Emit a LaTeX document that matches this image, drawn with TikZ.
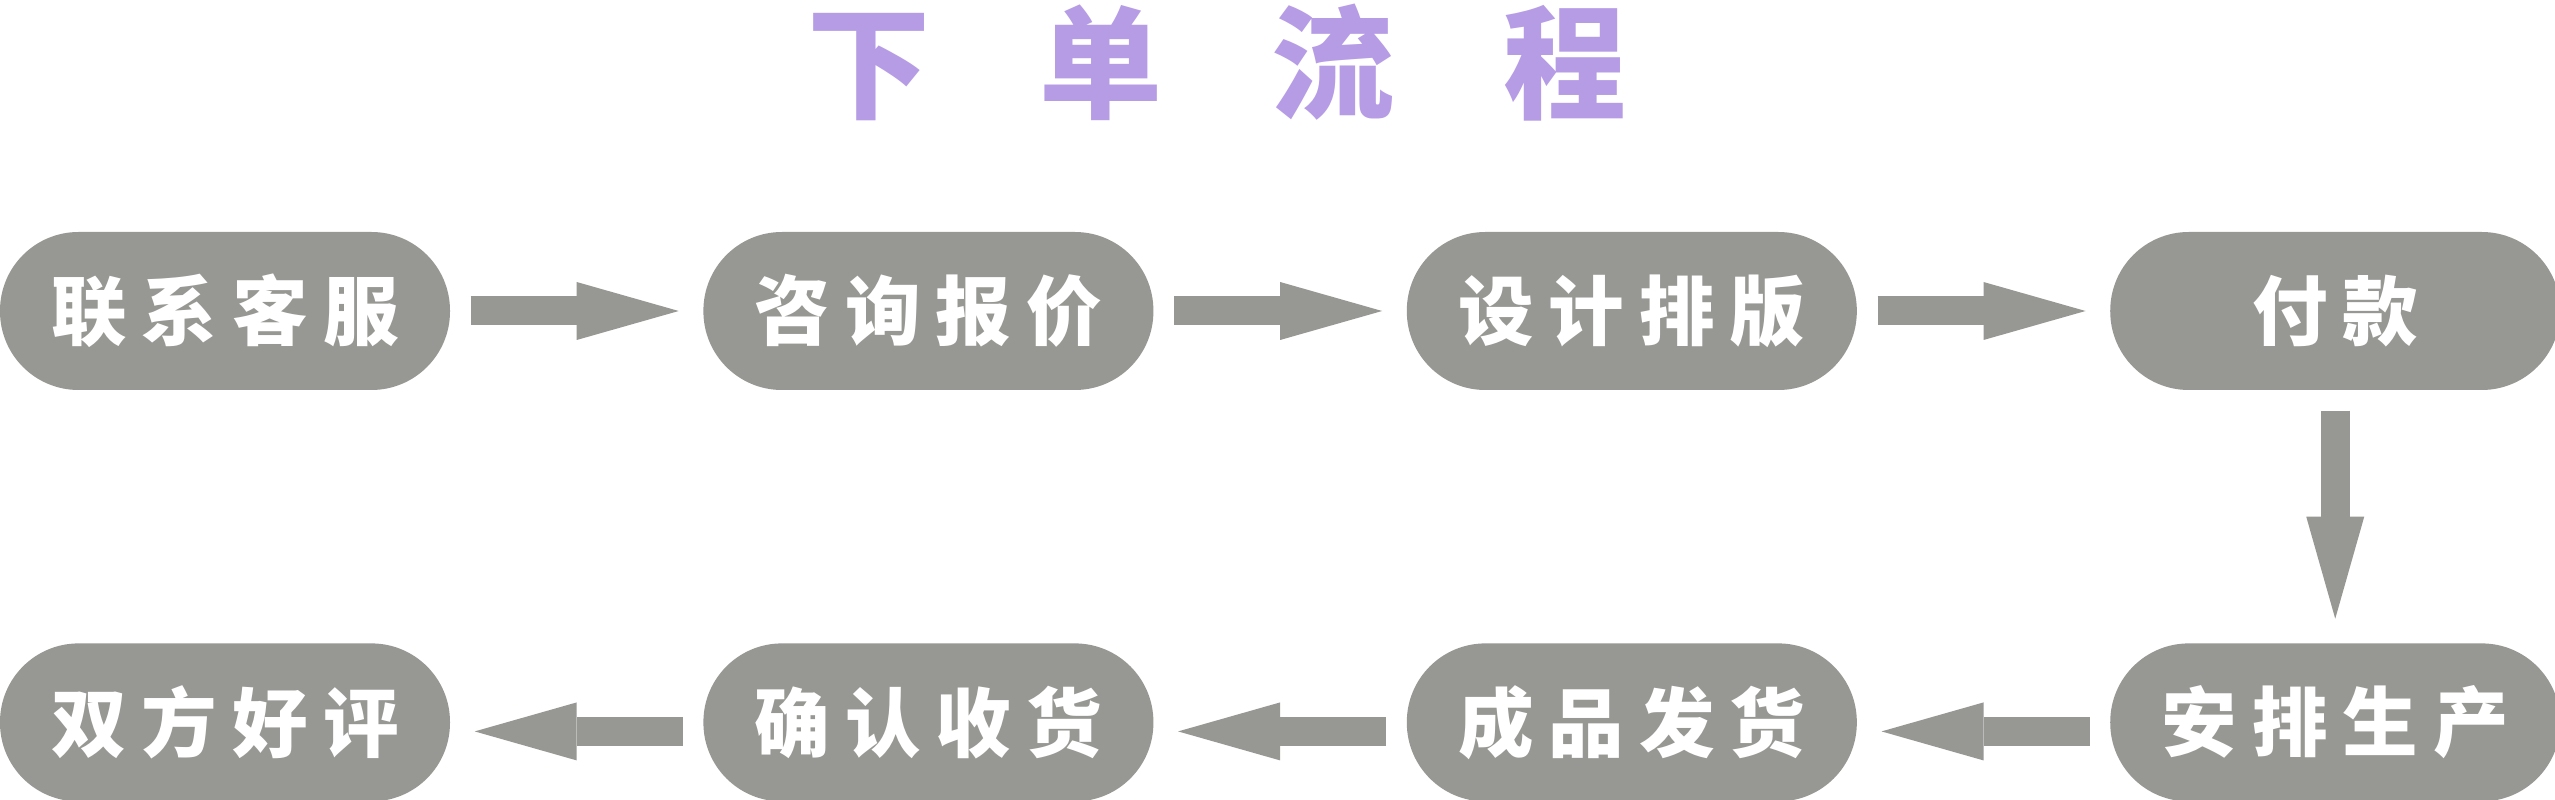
\documentclass[tikz,border=0pt]{standalone}
\usepackage{fontspec}
\usepackage{tikz}
\usetikzlibrary{positioning, arrows.meta, fadings}
\newfontfamily\cjkfont{Noto Sans CJK SC}
\definecolor{boxgray}{RGB}{151,151,147}
\definecolor{titlepurple}{RGB}{182,156,229}
\definecolor{titletop}{RGB}{160,157,236}
\definecolor{titlebottom}{RGB}{218,155,220}
% spread the characters of a label: \spaced{gap}{text}
\newcommand\spaced[2]{\def\sepamount{#1}\spacedA#2\relax}
\def\spacedA#1#2{#1\ifx\relax#2\else\hspace{\sepamount}\expandafter\spacedA\expandafter#2\fi}
\newcommand\titlestyle{\cjkfont\bfseries\fontsize{35pt}{36pt}\selectfont}

% mask for the colour run of the title
\begin{tikzfadingfrompicture}[name=titlemask]
	\node[inner sep=0pt, text=transparent!0, font=\titlestyle] {\spaced{10.9mm}{下单流程}};
\end{tikzfadingfrompicture}

\begin{document}
\begin{tikzpicture}[
		font=\cjkfont\bfseries\fontsize{21.5pt}{23pt}\selectfont,
		node distance=25.2mm and 25.2mm,
		stepbox/.style={fill=boxgray, text=white, rounded corners=7.85mm, minimum width=45mm, minimum height=15.8mm, inner sep=0pt},
		flow/.style={draw=boxgray, line width=2.9mm, -{Triangle[length=10.2mm, width=5.8mm, line width=0pt]}, shorten <=2mm, shorten >=2.4mm}
		]
		
		% Canvas
		\useasboundingbox (0,0) rectangle (25.55,-8);
		
		% Title
		\node[anchor=west, inner sep=0pt, text=titlepurple, font=\titlestyle] (title) at (8.07,-0.63) {\spaced{10.9mm}{下单流程}};
		\fill[top color=titletop, bottom color=titlebottom, path fading=titlemask, fit fading=false] (title.south west) rectangle (title.north east);
		
		% Top row
		\node[stepbox] (contact) at (2.25,-3.11) {\spaced{1.5mm}{联系客服}};
		\node[stepbox, right=of contact] (quote) {\spaced{1.5mm}{咨询报价}};
		\node[stepbox, right=of quote] (design) {\spaced{1.5mm}{设计排版}};
		\node[stepbox, right=of design] (pay) {\spaced{1.5mm}{付款}};
		
		% Bottom row
		\node[stepbox, below=of pay] (produce) {\spaced{1.5mm}{安排生产}};
		\node[stepbox, left=of produce] (ship) {\spaced{1.5mm}{成品发货}};
		\node[stepbox, left=of ship] (receive) {\spaced{1.5mm}{确认收货}};
		\node[stepbox, left=of receive] (review) {\spaced{1.5mm}{双方好评}};
		
		\draw[flow] (contact) -- (quote);
		\draw[flow] (quote) -- (design);
		\draw[flow] (design) -- (pay);
		\draw[flow] (pay) -- (produce);
		\draw[flow] ([yshift=-0.9mm]produce.west) -- ([yshift=-0.9mm]ship.east);
		\draw[flow] ([yshift=-0.9mm]ship.west) -- ([yshift=-0.9mm]receive.east);
		\draw[flow] ([yshift=-0.9mm]receive.west) -- ([yshift=-0.9mm]review.east);
		
	\end{tikzpicture}
\end{document}
